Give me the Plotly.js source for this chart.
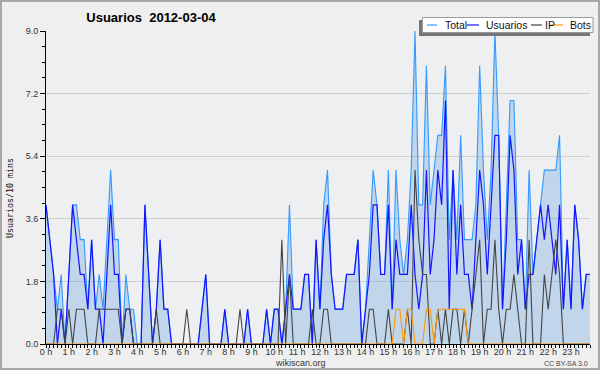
<!DOCTYPE html>
<html><head><meta charset="utf-8">
<script src="https://cdn.plot.ly/plotly-3.0.1.min.js"></script>
<style>html,body{margin:0;padding:0;background:#efefef}#c{width:600px;height:370px}</style>
</head><body><div id="c"></div>
<script>
// values per 10-minute slot, 00:00 .. 23:50
const total = [
  4,3,2,1,2,0,2,4,4,3, 3,1,3,1,2,1,3,5,3,3, 0,2,1,1,0,0,4,2,0,1, 3,1,1,0,0,0,0,0,0,0,
  0,1,2,0,0,0,0,1,0,0, 0,0,0,1,0,0,0,0,1,0, 1,1,0,1,4,1,1,1,2,2, 0,3,1,4,5,2,1,1,1,2,
  2,2,3,0,1,3,5,4,2,2, 5,1,5,3,2,3,5,9,4,4, 8,4,5,6,6,8,3,5,3,6, 3,3,3,4,8,5,3,5,9,6,
  1,4,7,7,3,3,1,5,2,3, 4,5,5,5,5,6,1,3,1,4, 3,1,2,2];
const usuarios = [
  4,3,2,0,1,0,2,4,3,2, 2,1,3,1,1,0,2,4,2,2, 0,1,1,0,0,0,4,2,0,1, 3,1,1,0,0,0,0,0,0,0,
  0,1,2,0,0,0,0,1,0,0, 0,0,0,1,0,0,0,0,1,0, 1,1,0,1,2,1,1,1,2,2, 0,3,1,3,4,2,1,1,1,2,
  2,2,3,0,1,2,4,4,2,2, 4,1,3,2,2,2,4,2,1,2, 5,2,3,5,4,7,1,5,2,4, 2,2,1,3,5,4,2,4,6,6,
  1,3,6,5,2,3,1,2,2,3, 4,3,4,3,2,4,1,3,1,4, 3,1,2,2];
const ip = [
  0,0,0,1,1,0,1,0,1,1, 1,0,0,0,1,1,1,1,1,1, 0,1,1,0,0,0,0,0,0,1, 0,0,0,0,0,0,0,1,0,0,
  0,0,0,0,0,0,0,0,0,0, 0,1,0,0,0,0,0,0,0,0, 0,0,3,0,2,0,0,0,0,0, 1,0,0,1,1,0,0,0,0,0,
  0,0,0,0,0,1,1,0,0,0, 1,0,0,0,0,1,0,5,3,2, 2,0,0,1,0,1,0,1,1,0, 1,0,1,2,3,0,1,1,3,1,
  0,1,1,2,1,0,0,3,0,0, 0,2,1,2,3,2,0,0,0,0, 0,0,0,0];
const bots = [
  0,0,0,0,0,0,0,0,0,0, 0,0,0,0,0,0,0,0,0,0, 0,0,0,0,0,0,0,0,0,0, 0,0,0,0,0,0,0,0,0,0,
  0,0,0,0,0,0,0,0,0,0, 0,0,0,0,0,0,0,0,0,0, 0,0,0,0,0,0,0,0,0,0, 0,0,0,0,0,0,0,0,0,0,
  0,0,0,0,0,0,0,0,0,0, 0,0,1,1,0,1,1,0,0,0, 1,1,0,1,1,1,1,1,1,1, 1,0,0,0,0,0,0,0,0,0,
  0,0,0,0,0,0,0,0,0,0, 0,0,0,0,0,0,0,0,0,0, 0,0,0,0];
const seriesNames = ['Total','Usuarios','IP','Bots'];
const seriesColors = ['#3399ff','#1414ff','#444444','#ff9900'];
const titleText = 'Usuarios\u00a0 2012-03-04';
const yTitle = 'Usuarios/10 mins';

const hours = total.map((_, i) => i / 6);

// pixel -> paper helpers (plot area 46..590 x 31..344)
const L = 46, R = 590, T = 31, B = 344;
const px = v => (v - L) / (R - L);
const py = v => (B - v) / (B - T);

const traces = [
  {x: hours, y: total, name: seriesNames[0], mode: 'lines', fill: 'tozeroy',
   fillcolor: 'rgba(100,160,225,0.32)', line: {color: seriesColors[0], width: 1.1}},
  {x: hours, y: usuarios, name: seriesNames[1], mode: 'lines', line: {color: seriesColors[1], width: 1.2}},
  {x: hours, y: ip, name: seriesNames[2], mode: 'lines', line: {color: seriesColors[2], width: 1.1}},
  {x: hours, y: bots, name: seriesNames[3], mode: 'lines', line: {color: seriesColors[3], width: 1.1}}
];

const fnt = 'Liberation Sans, Arial, sans-serif';
const shapes = [
  {type:'rect', xref:'paper', yref:'paper', x0:px(1), x1:px(599), y0:py(369), y1:py(1),
   line:{color:'#a8a8a8', width:2}, fillcolor:'rgba(0,0,0,0)', layer:'below'},
  {type:'rect', xref:'paper', yref:'paper', x0:px(419), x1:px(590), y0:py(36), y1:py(20),
   fillcolor:'#777777', line:{width:0}},
  {type:'rect', xref:'paper', yref:'paper', x0:px(422.5), x1:px(593), y0:py(32.5), y1:py(17.5),
   fillcolor:'#ffffff', line:{color:'#999999', width:1}}
];
const legSeg = [[427,437],[467,479],[531,542],[551,563]];
const legTxt = [443,484,543,568];
const annotations = [];
seriesNames.forEach((n, k) => {
  shapes.push({type:'line', xref:'paper', yref:'paper', x0:px(legSeg[k][0]), x1:px(legSeg[k][1]),
    y0:py(25), y1:py(25), line:{color:seriesColors[k], width:1.2}});
  annotations.push({xref:'paper', yref:'paper', x:px(legTxt[k]), y:py(25.5), xanchor:'left', yanchor:'middle',
    text:n, showarrow:false, font:{family:fnt, size:10.5, color:'#111'}});
});
annotations.push({xref:'paper', yref:'paper', x:px(10), y:py(198), textangle:-90, xanchor:'center', yanchor:'middle',
  text:yTitle, showarrow:false, font:{family:'DejaVu Sans Mono, monospace', size:8.3, color:'#111'}});
annotations.push({xref:'paper', yref:'paper', x:px(300), y:py(362.5), xanchor:'center', yanchor:'middle',
  text:'wikiscan.org', showarrow:false, font:{family:fnt, size:9, color:'#333'}});
annotations.push({xref:'paper', yref:'paper', x:px(590), y:py(363), xanchor:'right', yanchor:'middle',
  text:'CC BY-SA 3.0', showarrow:false, font:{family:fnt, size:7, color:'#444'}});

const layout = {
  width: 600, height: 370,
  paper_bgcolor: '#efefef', plot_bgcolor: '#eeeff1',
  margin: {l: L, r: 600 - R, t: T, b: 370 - B, pad: 0},
  showlegend: false,
  title: {text: titleText, x: 151/600, xanchor: 'center', xref: 'container', y: 1 - 17/370, yref: 'container', yanchor: 'middle',
          font: {family: fnt, size: 13, color: '#000', weight: 'bold'}},
  xaxis: {range: [0, 143/6], tickmode: 'linear', tick0: 0, dtick: 1, ticksuffix: ' h',
          ticks: 'outside', ticklen: 3, tickcolor: '#000', tickwidth: 1, ticklabelstandoff: -4,
          showline: true, linecolor: '#000', linewidth: 1, showgrid: false, zeroline: false,
          tickfont: {family: fnt, size: 9, color: '#333'},
          minor: {tickmode: 'linear', tick0: 0, dtick: 1/6, ticks: 'outside', ticklen: 3, tickcolor: '#000', showgrid: false},
          fixedrange: true},
  yaxis: {range: [0, 9], tickmode: 'linear', tick0: 0, dtick: 1.8, tickformat: '.1f',
          ticks: 'outside', ticklen: 5, tickcolor: '#000', tickwidth: 1,
          showline: true, linecolor: '#000', linewidth: 1, showgrid: true, gridcolor: '#cfcfcf', gridwidth: 1,
          zeroline: false, tickfont: {family: fnt, size: 9, color: '#333'},
          minor: {tickmode: 'linear', tick0: 0, dtick: 0.45, ticks: 'outside', ticklen: 3, tickcolor: '#000', showgrid: false},
          fixedrange: true},
  shapes: shapes,
  annotations: annotations
};
Plotly.newPlot('c', traces, layout, {staticPlot: true, displayModeBar: false});
</script></body></html>
